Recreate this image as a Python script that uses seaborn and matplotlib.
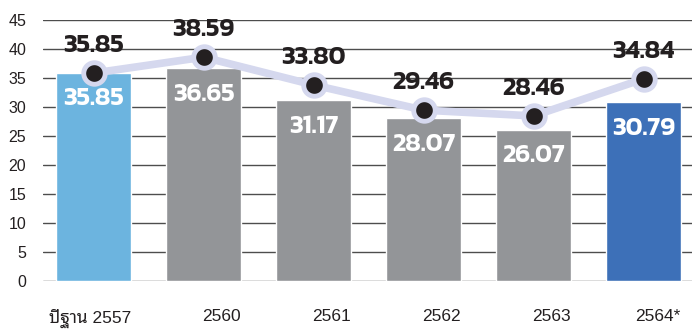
import matplotlib
matplotlib.use("Agg")
import matplotlib.pyplot as plt
import seaborn as sns
import pandas as pd

categories = ["ปีฐาน 2557", "2560", "2561", "2562", "2563", "2564*"]
bar_values = [35.85, 36.65, 31.17, 28.07, 26.07, 30.79]
line_values = [35.85, 38.59, 33.80, 29.46, 28.46, 34.84]
bar_colors = ["#6cb4df", "#939598", "#939598", "#939598", "#939598", "#3d70b8"]
yticks = [0, 5, 10, 15, 20, 25, 30, 35, 40, 45]

sns.set_theme(style="white")
plt.rcParams['font.family'] = ['Liberation Sans', 'Noto Sans Thai Looped', 'DejaVu Sans']

W, H = 692, 329
fig = plt.figure(figsize=(W/100, H/100), dpi=100)
ax = fig.add_axes([43/W, 1-281/H, (692-43)/W, (281-20)/H])

df = pd.DataFrame({"cat": categories, "bar": bar_values, "line": line_values})
x = list(range(len(categories)))
sns.barplot(data=df, x="cat", y="bar", hue="cat", palette=bar_colors, legend=False,
            width=75/110, saturation=1, ax=ax, zorder=2)
ax.plot(x, line_values, color="#d5d8ee", lw=5.5, zorder=3, solid_capstyle="round")
ax.scatter(x, line_values, s=240, color="#231f20", edgecolor="#d5d8ee", linewidth=3.5, zorder=4)

ax.set_xlim((43-93.5)/110, (692-93.5)/110)
ax.set_ylim(0, 45)
ax.set_yticks(yticks)
for v in yticks:
    ax.axhline(v, color="#4d4d4d", lw=1, zorder=1)
for s in ax.spines.values():
    s.set_visible(False)
ax.set_xlabel("")
ax.set_ylabel("")
ax.set_xticks([i + 0.34 for i in x])
ax.set_xticklabels(categories, ha="right", fontsize=12.5, color="#231f20")
ax.tick_params(axis="x", length=0, pad=20)
ax.tick_params(axis="y", length=0, pad=12, labelsize=11.5, labelcolor="#231f20")

bold = dict(family=["Kanit", "DejaVu Sans"], fontweight=600, fontsize=18.5)
for i, (b, l) in enumerate(zip(bar_values, line_values)):
    ax.annotate(f"{l:.2f}", (i, l), xytext=(0, 15), textcoords="offset points",
                ha="center", va="baseline", color="#231f20", zorder=5, **bold)
    ax.annotate(f"{b:.2f}", (i, b), xytext=(0, -19), textcoords="offset points",
                ha="center", va="center", color="white", zorder=5, **bold)

fig.savefig("out.png", dpi=100)
